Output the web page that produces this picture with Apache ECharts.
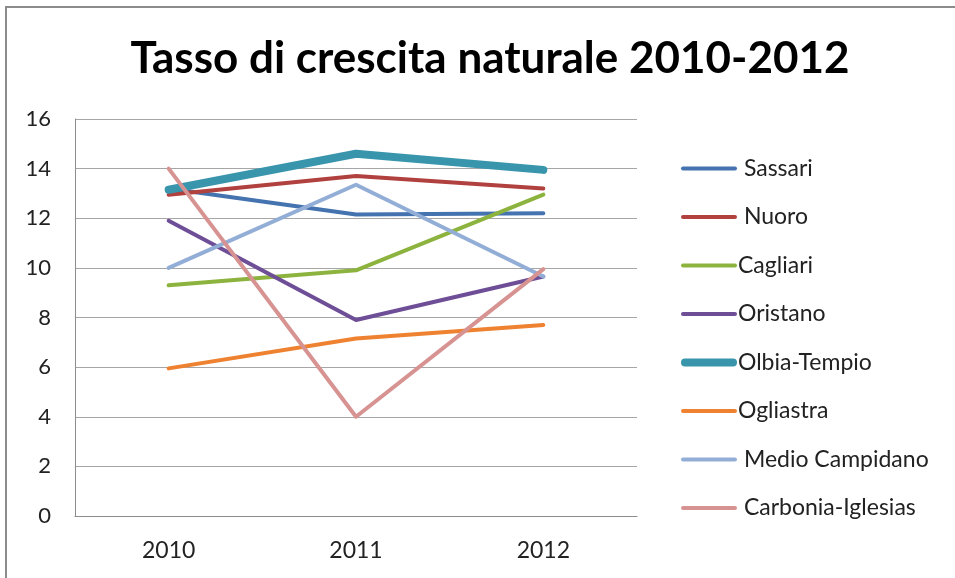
<!DOCTYPE html>
<html>
<head>
<meta charset="utf-8">
<script src="https://cdn.jsdelivr.net/npm/echarts@6/dist/echarts.min.js"></script>
<style>
html,body{margin:0;padding:0;background:#fff;}
#chart{width:955px;height:578px;}
</style>
</head>
<body>
<div id="chart"></div>
<script>
var years = ['2010', '2011', '2012'];
var seriesNames = ['Sassari', 'Nuoro', 'Cagliari', 'Oristano', 'Olbia-Tempio', 'Ogliastra', 'Medio Campidano', 'Carbonia-Iglesias'];
var sassari = [13.2, 12.15, 12.2];
var nuoro = [12.95, 13.7, 13.2];
var cagliari = [9.3, 9.9, 12.95];
var oristano = [11.9, 7.9, 9.65];
var olbiaTempio = [13.15, 14.6, 13.95];
var ogliastra = [5.95, 7.15, 7.7];
var medioCampidano = [10.0, 13.35, 9.65];
var carboniaIglesias = [14.0, 4.0, 9.95];
var yTicks = [0, 2, 4, 6, 8, 10, 12, 14, 16];

var values = [sassari, nuoro, cagliari, oristano, olbiaTempio, ogliastra, medioCampidano, carboniaIglesias];
var colors = ['#4473B0', '#B0413E', '#8DB33F', '#6E4E96', '#3895AC', '#EE8230', '#93AED6', '#D69392'];
var widths = [4, 4, 4, 4, 8, 4, 4, 4];
var spaced = {'Sassari': 1, 'Nuoro': 1, 'Medio Campidano': 1, 'Carbonia-Iglesias': 1};
var font = 'Lato, "Open Sans", sans-serif';
var thinIcon = 'path://M2,0 L54,0 A2,2 0 0 1 54,4 L2,4 A2,2 0 0 1 2,0 Z';
var thickIcon = 'path://M4,0 L52,0 A4,4 0 0 1 52,8 L4,8 A4,4 0 0 1 4,0 Z';

var chart = echarts.init(document.getElementById('chart'), null, {renderer: 'canvas'});
chart.setOption({
  animation: false,
  backgroundColor: '#fff',
  title: {
    text: 'Tasso di crescita naturale 2010-2012',
    left: 485, top: 32, textAlign: 'center',
    textStyle: {fontFamily: font, fontWeight: 'bold', fontSize: 44, color: '#000'}
  },
  graphic: [
    {type: 'polyline', shape: {points: [[6, 600], [6, 7], [960, 7]]},
     style: {stroke: '#8c8c8c', lineWidth: 2, fill: null}, silent: true}
  ],
  legend: {
    orient: 'vertical', left: 676, top: 152,
    itemWidth: 56, itemHeight: 8, itemGap: 25.5,
    data: seriesNames.map(function (n, i) {
      return {name: n, icon: widths[i] > 4 ? thickIcon : thinIcon};
    }),
    formatter: function (n) { return (spaced[n] ? ' ' : '') + n; },
    textStyle: {fontFamily: font, fontSize: 23, color: '#222', padding: [0, 0, 0, -4]}
  },
  grid: {left: 75, right: 318, top: 119, bottom: 62, containLabel: false},
  xAxis: {
    type: 'category', data: years, boundaryGap: true,
    axisLine: {lineStyle: {color: '#8c8c8c', width: 1}},
    axisTick: {show: false},
    axisLabel: {fontFamily: font, fontSize: 23, color: '#222', margin: 23}
  },
  yAxis: {
    type: 'value', min: yTicks[0], max: yTicks[yTicks.length - 1], interval: 2,
    axisLine: {show: true, lineStyle: {color: '#8c8c8c', width: 1}},
    axisTick: {show: false},
    splitLine: {lineStyle: {color: '#a6a6a6', width: 1}},
    axisLabel: {fontFamily: font, fontSize: 22, color: '#222', margin: 24}
  },
  series: seriesNames.map(function (n, i) {
    return {
      name: n, type: 'line', data: values[i],
      symbol: 'none', color: colors[i],
      lineStyle: {color: colors[i], width: widths[i], cap: 'round', join: 'round'},
      itemStyle: {color: colors[i]}
    };
  })
});
</script>
</body>
</html>
